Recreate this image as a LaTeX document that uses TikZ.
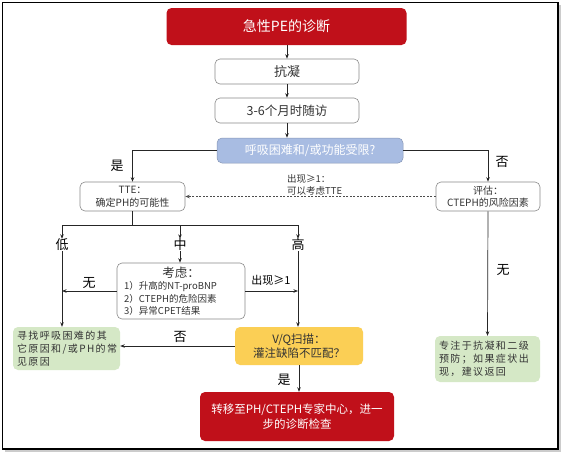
\documentclass[tikz,border=0pt]{standalone}
\usepackage{fontspec}
\setmainfont{Noto Sans CJK SC}
\newfontfamily\cjksp[LetterSpace=14]{Noto Sans CJK SC}
\usetikzlibrary{arrows.meta}
\definecolor{pered}{HTML}{C0101A}
\definecolor{qblue}{HTML}{A8BCE2}
\definecolor{qgreen}{HTML}{D5E8C6}
\definecolor{qyellow}{HTML}{FBCF55}
\definecolor{boxgray}{HTML}{8A8A8A}
\definecolor{txt}{HTML}{333333}
\tikzset{
  arr/.style={draw=black!85, line width=0.7pt, -{Stealth[length=4.5pt,width=3.5pt]}},
  ln/.style={draw=black!85, line width=0.7pt},
  basebox/.style={rectangle, rounded corners=5pt, align=center, inner sep=0pt},
  whitebox/.style={basebox, draw=boxgray, fill=white, line width=0.6pt, text=txt},
  redbox/.style={basebox, fill=pered, text=white},
  bluebox/.style={basebox, draw=qblue!80!black, fill=qblue, text=white, line width=0.5pt},
  greenbox/.style={basebox, fill=qgreen, text=txt},
  yellowbox/.style={basebox, fill=qyellow, text=txt},
  lbl/.style={font=\fontsize{13}{15}\selectfont, text=black, inner sep=0pt},
  small/.style={font=\fontsize{10}{12.5}\selectfont},
}
\begin{document}
\begin{tikzpicture}[x=1pt,y=-1pt]
\useasboundingbox (0,0) rectangle (565,456);
\fill[black!20] (5,5) rectangle (561,452);
\draw[black, line width=1.3pt, fill=white] (2.5,2.5) rectangle (558,449);

\node[redbox, minimum width=240, minimum height=37, font=\fontsize{14}{16}\selectfont] (title) at (286.5,26.5) {急性PE的诊断};
\node[whitebox, minimum width=144, minimum height=25, font=\fontsize{13}{15}\selectfont] (kn) at (287,71.5) {抗凝};
\node[whitebox, minimum width=144, minimum height=25, font=\fontsize{12.5}{15}\selectfont] (fu) at (287,110.5) {3-6个月时随访};
\node[bluebox, minimum width=186, minimum height=25, font=\fontsize{12}{14}\selectfont] (dy) at (310,150.5) {呼吸困难和/或功能受限?};
\node[whitebox, minimum width=105, minimum height=29, small] (tte) at (132.5,196.5) {TTE：\\确定PH的可能性};
\node[whitebox, minimum width=104, minimum height=29, small] (ev) at (488,196.5) {评估：\\CTEPH的风险因素};
\node[whitebox, minimum width=128, minimum height=56] (co) at (181,291) {};
\node[font=\fontsize{12.5}{15}\selectfont, text=txt, inner sep=0pt] (coh) at (181,273) {考虑：};
\node[small, text=txt, align=left, anchor=north west, inner sep=0pt, font=\fontsize{9.5}{12.3}\selectfont] (coi) at (124,281.5) {1）升高的NT-proBNP\\2）CTEPH的危险因素\\3）异常CPET结果};
\node[greenbox, minimum width=107, minimum height=43, text width=99, align=left, font=\fontsize{10}{13}\cjksp] (gl) at (66.5,348.5) {寻找呼吸困难的其\\它原因和/或PH的常\\见原因};
\node[yellowbox, minimum width=128, minimum height=38, font=\fontsize{11.5}{14}\selectfont] (vq) at (299,346) {V/Q扫描：\\灌注缺陷不匹配？};
\node[greenbox, minimum width=105, minimum height=46, text width=97, align=left, font=\fontsize{10}{13}\cjksp] (gr) at (487.5,359) {专注于抗凝和二级\\预防；如果症状出\\现，建议返回};
\node[redbox, minimum width=194, minimum height=49, font=\fontsize{11.5}{15}\selectfont] (fin) at (297,416.5) {转移至PH/CTEPH专家中心，进一\\步的诊断检查};

% labels
\node[lbl] (yes1) at (117,166) {是};
\node[lbl] (no1) at (502,162) {否};
\node[inner sep=0pt, align=left, anchor=west, font=\fontsize{9.5}{11.5}\selectfont, text=txt] (dl) at (287,185) {出现≥1：\\可以考虑TTE};
\node[lbl] (lo) at (62,245) {低};
\node[lbl] (mi) at (180,245) {中};
\node[lbl] (hi) at (298,245) {高};
\node[lbl] (wu1) at (89,283) {无};
\node[inner sep=0pt, font=\fontsize{11}{13}\selectfont, text=black] (cx) at (271,280) {出现≥1};
\node[lbl] (no2) at (180,337) {否};
\node[lbl] (yes2) at (284,380) {是};
\node[lbl] (wu2) at (503,270) {无};

\coordinate (bus) at (132.5,225);
\coordinate (busl) at (62,225);
\coordinate (busr) at (298,225);

% connectors
\draw[arr] (title.south -| kn.north) -- (kn.north);
\draw[arr] (kn) -- (fu);
\draw[arr] (fu.south) -- (fu.south |- dy.north);
\draw[arr] (dy.west) -| (tte.north);
\draw[arr] (dy.east) -| (ev.north);
\draw[arr, dashed, dash pattern=on 2pt off 1.5pt, draw=black!70] (ev.west) -- (tte.east);
\draw[ln] (tte.south) -- (bus);
\draw[ln] (busl) -- (busr);
\draw[arr] (busl) -- (lo.north);
\draw[arr] (mi.north |- bus) -- (mi.north);
\draw[arr] (busr) -- (hi.north);
\draw[arr] (mi.south) -- (mi.south |- co.north);
\draw[arr] (lo.south) -- (lo.south |- gl.north);
\draw[arr] (co.west) -- (lo.south |- co.west);
\draw[arr] (co.east) -- (hi.south |- co.east);
\draw[arr] (hi.south) -- (hi.south |- vq.north);
\draw[arr] (vq.west) -- (gl.east |- vq.west);
\draw[arr] (vq.south) -- (vq.south |- fin.north);
\draw[arr] (ev.south) -- (gr.north);
\end{tikzpicture}
\end{document}
